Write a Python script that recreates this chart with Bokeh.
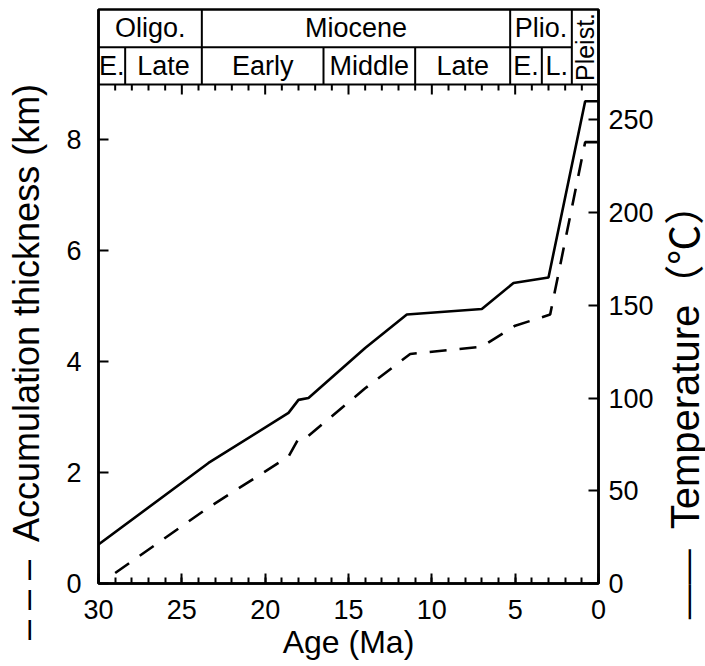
import math
from bokeh.plotting import figure
from bokeh.layouts import row
from bokeh.models import Range1d, LinearAxis, FixedTicker, Div
from bokeh.core.properties import value
from bokeh.embed import file_html
from bokeh.resources import INLINE

# ---------------- data ----------------
age_temp = [30.0, 23.4, 18.6, 18.0, 17.4, 14.0, 11.5, 7.0, 5.1, 3.0, 0.8, 0.0]
temperature = [21, 65, 92, 99, 100, 127, 145, 148, 162, 165, 260, 260]

age_thick = [29.0, 23.4, 18.6, 18.0, 17.5, 14.0, 11.3, 7.0, 5.0, 2.9, 0.8, 0.0]
thickness = [0.19, 1.37, 2.29, 2.61, 2.64, 3.52, 4.14, 4.27, 4.65, 4.85, 7.96, 7.96]

epochs = ["Oligo.", "Miocene", "Plio."]
epoch_bounds = [30.0, 23.8, 5.3, 1.6]
subepochs = ["E.", "Late", "Early", "Middle", "Late", "E.", "L."]
sub_bounds = [30.0, 28.4, 23.8, 16.5, 11.0, 5.3, 3.4, 1.6]
pleist_label = "Pleist."
pleist_bounds = [1.6, 0.0]

thick_ticks = [0, 2, 4, 6, 8]
temp_ticks = [0, 50, 100, 150, 200, 250]
age_ticks = [30, 25, 20, 15, 10, 5, 0]
age_minor = list(range(0, 31))

left_symbol = "\u2013 \u2013 \u2013"
left_title = "Accumulation thickness (km)"
right_symbol = "\u2014\u2014"
right_title = "Temperature\uff08\u2103\uff09"
bottom_title = "Age (Ma)"

# ---------------- layout constants ----------------
FONT = "Liberation Sans"
FS = "27px"
H = 663
LEFT_W, RIGHT_W = 50, 51
KM_FRAME = 9.0          # top of the data area (km)
KM_MID = 9.67           # header row divider (km)
KM_TOP = 10.353         # header top (km)
TEMP_AT_FRAME = 269.0   # temperature matching KM_FRAME

p = figure(frame_width=500, frame_height=574,
           x_range=Range1d(30, 0), y_range=Range1d(0, KM_TOP),
           output_backend="svg", toolbar_location=None,
           min_border_left=48, min_border_right=56,
           min_border_top=9, min_border_bottom=80)
p.extra_y_ranges = {"temp": Range1d(0, KM_TOP * TEMP_AT_FRAME / KM_FRAME)}
p.xgrid.visible = False
p.ygrid.visible = False
p.outline_line_color = "black"
p.outline_line_width = 2.5
p.outline_line_alpha = 1.0
p.background_fill_color = "white"
p.border_fill_color = "white"


def style_axis(ax):
    ax.axis_line_width = 2.5
    ax.axis_line_color = "black"
    ax.major_tick_line_width = 2
    ax.minor_tick_line_width = 2
    ax.major_tick_in = 10
    ax.major_tick_out = 0
    ax.minor_tick_in = 6
    ax.minor_tick_out = 0
    ax.major_label_text_font = FONT
    ax.major_label_text_font_size = FS
    ax.major_label_text_color = "black"
    ax.axis_label_text_font = FONT
    ax.axis_label_text_font_size = "32px"
    ax.axis_label_text_font_style = "normal"
    ax.axis_label_text_color = "black"


xa = p.xaxis[0]
xa.ticker = FixedTicker(ticks=age_ticks, minor_ticks=age_minor)
xa.axis_label = bottom_title
style_axis(xa)
xa.major_label_standoff = 16
xa.axis_label_standoff = 2

ya = p.yaxis[0]
ya.ticker = FixedTicker(ticks=thick_ticks)
style_axis(ya)
ya.minor_tick_in = 0
ya.major_label_standoff = 17

ra = LinearAxis(y_range_name="temp", ticker=FixedTicker(ticks=temp_ticks))
style_axis(ra)
ra.minor_tick_in = 0
ra.major_label_standoff = 10
p.add_layout(ra, "right")

# ---------------- curves ----------------
p.line(age_temp, temperature, y_range_name="temp", line_color="black", line_width=2.6)
p.line(age_thick, thickness, line_color="black", line_width=2.6, line_dash="17 13")

# ---------------- header (stratigraphic chart) ----------------
x0s, y0s, x1s, y1s = [], [], [], []
x0s += [30.0, 30.0]; x1s += [0.0, epoch_bounds[-1]]
y0s += [KM_FRAME, KM_MID]; y1s += [KM_FRAME, KM_MID]
for b in epoch_bounds[1:-1]:
    x0s.append(b); x1s.append(b); y0s.append(KM_MID); y1s.append(KM_TOP)
x0s.append(pleist_bounds[0]); x1s.append(pleist_bounds[0]); y0s.append(KM_FRAME); y1s.append(KM_TOP)
for b in sub_bounds[1:-1]:
    x0s.append(b); x1s.append(b); y0s.append(KM_FRAME); y1s.append(KM_MID)
p.segment(x0=x0s, y0=y0s, x1=x1s, y1=y1s, line_color="black", line_width=2)

ep_x = [(a + b) / 2 for a, b in zip(epoch_bounds[:-1], epoch_bounds[1:])]
p.text(x=ep_x, y=[(KM_MID + KM_TOP) / 2] * len(ep_x), text=epochs,
       text_font=value(FONT), text_font_size=FS, text_align="center",
       text_baseline="middle", text_color="black")
sub_x = [(a + b) / 2 for a, b in zip(sub_bounds[:-1], sub_bounds[1:])]
p.text(x=sub_x, y=[(KM_FRAME + KM_MID) / 2] * len(sub_x), text=subepochs,
       text_font=value(FONT), text_font_size=FS, text_align="center",
       text_baseline="middle", text_color="black")
p.text(x=[sum(pleist_bounds) / 2], y=[(KM_FRAME + KM_TOP) / 2], text=[pleist_label],
       angle=math.pi / 2, text_font=value(FONT), text_font_size="25px",
       text_align="center", text_baseline="middle", text_color="black")

top_x = [a for a in age_minor if 0 < a < 30]
top_len = [10 if a % 5 == 0 else 6 for a in top_x]
p.ray(x=top_x, y=[KM_FRAME] * len(top_x), length=top_len, length_units="screen",
      angle=-math.pi / 2, line_color="black", line_width=2)


# ---------------- side titles (rotated, reading bottom-to-top) ----------------
def title_div(width, symbol, title, cx, cy, sym_px, txt_px, gap_px):
    inner = (
        f'<div style="position:relative;width:{width}px;height:{H}px;overflow:hidden;margin:0;padding:0;">'
        f'<div style="position:absolute;left:{cx}px;top:{cy}px;'
        f'transform:translate(-50%,-50%) rotate(-90deg);white-space:nowrap;'
        f"font-family:'{FONT}','Noto Sans CJK SC';line-height:1;color:#000;\">"
        f'<span style="font-size:{sym_px}px;">{symbol}</span>'
        f'<span style="display:inline-block;width:{gap_px}px;"></span>'
        f'<span style="font-size:{txt_px}px;">{title}</span>'
        f'</div></div>'
    )
    return Div(text=inner, width=width, height=H, margin=0,
               styles={"overflow": "hidden", "padding": "0px"})


left_div = title_div(LEFT_W, left_symbol, left_title, 27, 362, 36, 36, 18)
right_div = title_div(RIGHT_W, right_symbol, right_title, 29, 402, 35, 40, 20)

layout = row(left_div, p, right_div, spacing=0)
open("out.html", "w").write(file_html(layout, INLINE))
